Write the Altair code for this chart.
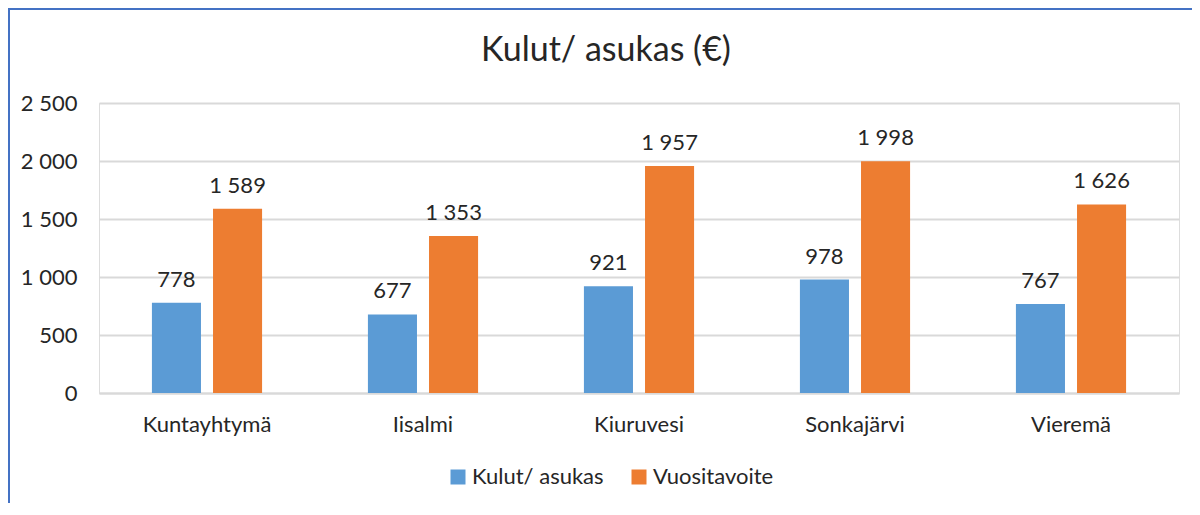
import altair as alt
import pandas as pd

categories = ["Kuntayhtymä", "Iisalmi", "Kiuruvesi", "Sonkajärvi", "Vieremä"]
kulut = [778, 677, 921, 978, 767]
tavoite = [1589, 1353, 1957, 1998, 1626]
series = ["Kulut/ asukas", "Vuositavoite"]
colors = ["#5B9BD5", "#ED7D31"]
title_text = "Kulut/ asukas (€)"

rows = []
for c, k, t in zip(categories, kulut, tavoite):
    rows.append({"kunta": c, "sarja": series[0], "arvo": k})
    rows.append({"kunta": c, "sarja": series[1], "arvo": t})
df = pd.DataFrame(rows)

FONT = "Lato"

base = alt.Chart(df).transform_calculate(
    lbl="replace(format(datum.arvo, ','), ',', ' ')"
).encode(
    x=alt.X("kunta:N", sort=categories, title=None,
            scale=alt.Scale(paddingInner=0.49, paddingOuter=0.245),
            axis=alt.Axis(labelAngle=0, labelFontSize=22, labelFont=FONT,
                          labelColor="#262626", ticks=False, domain=True,
                          domainColor="#D9D9D9", domainWidth=2, labelPadding=21)),
    xOffset=alt.XOffset("sarja:N", sort=series,
                        scale=alt.Scale(paddingInner=0.197, paddingOuter=0)),
)

bars = base.mark_bar().encode(
    y=alt.Y("arvo:Q", title=None,
            scale=alt.Scale(domain=[0, 2500], nice=False),
            axis=alt.Axis(values=[0, 500, 1000, 1500, 2000, 2500],
                          labelExpr="replace(format(datum.value, ','), ',', ' ')",
                          labelFontSize=22, labelFont=FONT, labelColor="#262626",
                          ticks=False, domain=False, gridColor="#D9D9D9",
                          gridWidth=2, labelPadding=22)),
    color=alt.Color("sarja:N", sort=series,
                    scale=alt.Scale(domain=series, range=colors),
                    legend=alt.Legend(title=None, orient="none", direction="horizontal",
                                      legendX=348, legendY=363, symbolType="square",
                                      symbolSize=225, symbolStrokeWidth=0,
                                      labelFontSize=22, labelFont=FONT,
                                      labelColor="#262626", labelOffset=3,
                                      columnPadding=24)),
)

labels = base.mark_text(baseline="alphabetic", dy=-16, fontSize=22, font=FONT,
                        color="#262626").encode(
    y=alt.Y("arvo:Q"),
    text="lbl:N",
)

title_mark = alt.Chart(alt.Data(values=[{"t": title_text}])).mark_text(
    fontSize=34, font=FONT, color="#262626", baseline="alphabetic", align="center"
).encode(x=alt.value(507), y=alt.value(-42), text="t:N")

border_left = alt.Chart(alt.Data(values=[{}])).mark_rule(
    color="#4472C4", strokeWidth=2).encode(
    x=alt.value(-90), y=alt.value(-95), y2=alt.value(400))
border_top = alt.Chart(alt.Data(values=[{}])).mark_rule(
    color="#4472C4", strokeWidth=2).encode(
    y=alt.value(-94), x=alt.value(-91), x2=alt.value(1093))

chart = alt.layer(bars, labels, title_mark, border_left, border_top).properties(
    width=1080, height=290,
    padding={"left": 91, "top": 95, "right": 13, "bottom": 114},
    autosize=alt.AutoSizeParams(type="none"),
).configure_view(stroke=None).configure(background="white")

chart.save("out.html", embed_options={"renderer": "svg", "actions": False})
